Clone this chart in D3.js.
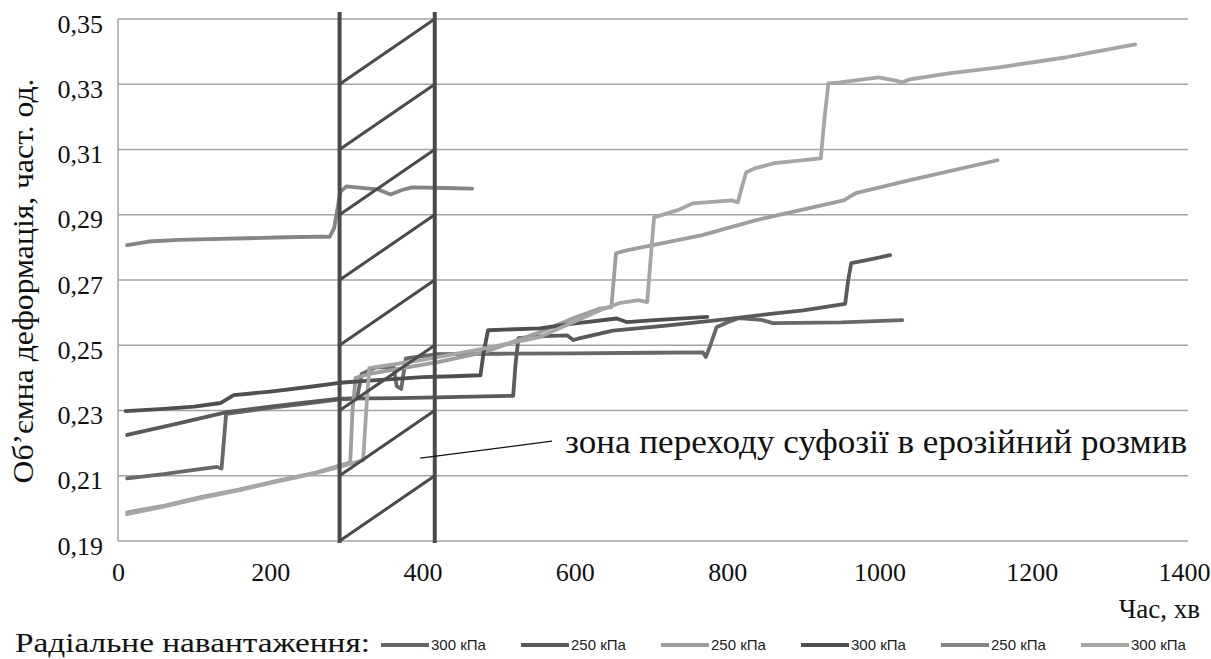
<!DOCTYPE html>
<html>
<head>
<meta charset="utf-8">
<script src="https://cdn.jsdelivr.net/npm/d3@7"></script>
<style>
  body { margin: 0; background: #fff; }
  svg { display: block; }
</style>
</head>
<body>
<div id="chart"></div>
<script>
var width = 1211,
    height = 659;

// axis ticks
var xTicks = [0, 200, 400, 600, 800, 1000, 1200, 1400];
var yTicks = [0.19, 0.21, 0.23, 0.25, 0.27, 0.29, 0.31, 0.33, 0.35];

// zone of suffosion -> erosion transition (minutes)
var zone = [291, 416];

// series, [time, min ; volumetric strain]
var d300a = [[12,0.2092],[60,0.2105],[100,0.2118],[130,0.2127],[136,0.2122],[142,0.2290],[200,0.2308],[250,0.2322],[291,0.2334],[314,0.2338],[320,0.2412],[338,0.2432],[362,0.2433],[366,0.2375],[372,0.2366],[378,0.2460],[420,0.2473],[500,0.2474],[600,0.2475],[700,0.2477],[768,0.2478],[772,0.2464],[778,0.2500],[786,0.2555],[800,0.2570],[815,0.2583],[845,0.2578],[860,0.2568],[950,0.2570],[1030,0.2577]];
var d250a = [[12,0.2225],[75,0.2258],[143,0.2295],[200,0.2312],[250,0.2326],[291,0.2336],[330,0.2337],[366,0.2338],[420,0.2340],[480,0.2343],[519,0.2345],[522,0.2440],[526,0.2522],[560,0.2528],[590,0.2530],[598,0.2516],[604,0.2520],[650,0.2545],[720,0.2560],[800,0.2580],[860,0.2597],[900,0.2607],[955,0.2627],[959,0.2700],[963,0.2752],[985,0.2762],[1014,0.2776]];
var d250b = [[12,0.1988],[60,0.2008],[110,0.2035],[160,0.2058],[210,0.2085],[260,0.2110],[300,0.2137],[305,0.2142],[308,0.2300],[312,0.2400],[330,0.2412],[370,0.2428],[420,0.2448],[480,0.2478],[554,0.2540],[600,0.2585],[632,0.2612],[648,0.2617],[651,0.2700],[654,0.2782],[668,0.2791],[735,0.2822],[766,0.2837],[837,0.2883],[953,0.2944],[969,0.2966],[1040,0.3006],[1155,0.3067]];
var d300b = [[10,0.2298],[60,0.2305],[100,0.2312],[135,0.2323],[152,0.2347],[200,0.2358],[250,0.2372],[291,0.2385],[340,0.2393],[400,0.2402],[440,0.2405],[476,0.2408],[480,0.2475],[486,0.2546],[554,0.2552],[598,0.2566],[655,0.2582],[668,0.2571],[700,0.2576],[774,0.2587]];
var d250c = [[12,0.2807],[40,0.2818],[80,0.2823],[120,0.2825],[170,0.2828],[220,0.2831],[268,0.2833],[278,0.2832],[284,0.2860],[292,0.2970],[300,0.2987],[330,0.2980],[341,0.2978],[358,0.2962],[372,0.2975],[386,0.2984],[430,0.2982],[465,0.2980]];
var d300c = [[12,0.1982],[60,0.2005],[110,0.2032],[160,0.2056],[210,0.2083],[260,0.2108],[300,0.2133],[322,0.2148],[326,0.2300],[330,0.2430],[345,0.2435],[400,0.2455],[470,0.2485],[554,0.2525],[633,0.2607],[658,0.2629],[684,0.2638],[695,0.2632],[699,0.2750],[704,0.2892],[735,0.2914],[755,0.2935],[806,0.2944],[814,0.2938],[820,0.2990],[825,0.3030],[836,0.3042],[862,0.3058],[923,0.3073],[928,0.3200],[933,0.3303],[948,0.3306],[999,0.3321],[1020,0.3312],[1030,0.3306],[1040,0.3315],[1091,0.3333],[1157,0.3352],[1244,0.3382],[1279,0.3398],[1336,0.3422]];

var legendLabels = ["300 кПа", "250 кПа", "250 кПа", "300 кПа", "250 кПа", "300 кПа"];

// leader line of the zone note
var leaderFrom = [397, 0.2154],
    leaderTo = [570, 0.2206];

var series = [
  {values: d300a, color: "#686868"},
  {values: d250a, color: "#5a5a5a"},
  {values: d250b, color: "#9e9e9e"},
  {values: d300b, color: "#4f4f4f"},
  {values: d250c, color: "#858585"},
  {values: d300c, color: "#a6a6a6"}
];

var margin = {top: 19, right: 27, bottom: 118, left: 118};

var svg = d3.select("#chart").append("svg")
    .attr("width", width)
    .attr("height", height);

var x = d3.scaleLinear()
    .domain([0, 1400])
    .range([margin.left, 1184]);

var y = d3.scaleLinear()
    .domain([0.19, 0.35])
    .range([height - margin.bottom, margin.top]);

var serif = "'Liberation Serif', 'DejaVu Serif', serif";
var fmt = d => d3.format(".2f")(d).replace(".", ",");

// grid
svg.append("g")
  .selectAll("line")
  .data(yTicks).enter()
  .append("line")
    .attr("x1", margin.left)
    .attr("x2", width - margin.right + 4)
    .attr("y1", d => y(d))
    .attr("y2", d => y(d))
    .attr("stroke", "#a3a3a3")
    .attr("stroke-width", 1.5);

svg.append("line")
    .attr("x1", margin.left).attr("x2", margin.left)
    .attr("y1", y(0.35)).attr("y2", y(0.19))
    .attr("stroke", "#a3a3a3")
    .attr("stroke-width", 1.5);

// axes labels
var yAxis = g => g
    .attr("transform", `translate(${margin.left},0)`)
    .call(d3.axisLeft(y).tickValues(yTicks).tickSize(0).tickPadding(15).tickFormat(fmt))
    .call(g => g.select(".domain").remove())
    .call(g => g.selectAll("text")
        .attr("dy", "0.5em")
        .attr("font-family", serif)
        .attr("font-size", 26)
        .attr("fill", "#111"));

var xAxis = g => g
    .attr("transform", `translate(0,${y(0.19)})`)
    .call(d3.axisBottom(x).tickValues(xTicks).tickSize(0).tickPadding(22).tickFormat(d3.format("d")))
    .call(g => g.select(".domain").remove())
    .call(g => g.selectAll("text")
        .attr("font-family", serif)
        .attr("font-size", 26)
        .attr("fill", "#111"));

svg.append("g").call(yAxis);
svg.append("g").call(xAxis);

// data lines
var line = d3.line()
    .x(d => x(d[0]))
    .y(d => y(d[1]));

svg.append("g")
  .selectAll("path")
  .data(series).enter()
  .append("path")
    .attr("fill", "none")
    .attr("stroke", d => d.color)
    .attr("stroke-width", 3.8)
    .attr("stroke-linejoin", "round")
    .attr("stroke-linecap", "round")
    .attr("d", d => line(d.values));

// hatched zone
var zoneG = svg.append("g");
zoneG.selectAll("line.hatch")
  .data(d3.range(yTicks.length - 1)).enter()
  .append("line")
    .attr("class", "hatch")
    .attr("x1", x(zone[0]))
    .attr("y1", i => y(yTicks[i]))
    .attr("x2", x(zone[1]))
    .attr("y2", i => y(yTicks[i + 1]))
    .attr("stroke", "#4a4a4a")
    .attr("stroke-width", 3);

zoneG.selectAll("line.edge")
  .data(zone).enter()
  .append("line")
    .attr("class", "edge")
    .attr("x1", d => x(d)).attr("x2", d => x(d))
    .attr("y1", y(0.35) - 7)
    .attr("y2", y(0.19) + 2)
    .attr("stroke", "#4a4a4a")
    .attr("stroke-width", 4);

// note
svg.append("line")
    .attr("x1", x(leaderFrom[0]))
    .attr("y1", y(leaderFrom[1]))
    .attr("x2", x(leaderTo[0]))
    .attr("y2", y(leaderTo[1]))
    .attr("stroke", "#111")
    .attr("stroke-width", 1.2);

svg.append("text")
    .attr("x", x(leaderTo[0]) + 13)
    .attr("y", y(leaderTo[1]) + 12)
    .attr("font-family", serif)
    .attr("font-size", 34)
    .attr("textLength", 622)
    .attr("lengthAdjust", "spacingAndGlyphs")
    .attr("fill", "#111")
    .text("зона переходу суфозії в ерозійний розмив");

// axis titles
svg.append("text")
    .attr("transform", `translate(33,281) rotate(-90)`)
    .attr("text-anchor", "middle")
    .attr("font-family", serif)
    .attr("font-size", 30)
    .attr("textLength", 405)
    .attr("lengthAdjust", "spacingAndGlyphs")
    .attr("fill", "#111")
    .text("Об’ємна деформація, част. од.");

svg.append("text")
    .attr("x", 1200)
    .attr("y", 618)
    .attr("text-anchor", "end")
    .attr("font-family", serif)
    .attr("font-size", 27)
    .attr("fill", "#111")
    .text("Час, хв");

// legend
svg.append("text")
    .attr("x", 15)
    .attr("y", 652)
    .attr("font-family", serif)
    .attr("font-size", 28)
    .attr("textLength", 355)
    .attr("lengthAdjust", "spacingAndGlyphs")
    .attr("fill", "#111")
    .text("Радіальне навантаження:");

var legend = svg.append("g")
  .selectAll("g")
  .data(series).enter()
  .append("g")
    .attr("transform", (d, i) => `translate(${381 + i * 140},645)`);

legend.append("line")
    .attr("x1", 0).attr("x2", 48)
    .attr("stroke", d => d.color)
    .attr("stroke-width", 3.8);

legend.append("text")
    .attr("x", 50)
    .attr("y", 5)
    .attr("font-family", "Liberation Sans")
    .attr("font-size", 15)
    .attr("fill", "#222")
    .text((d, i) => legendLabels[i]);
</script>
</body>
</html>
